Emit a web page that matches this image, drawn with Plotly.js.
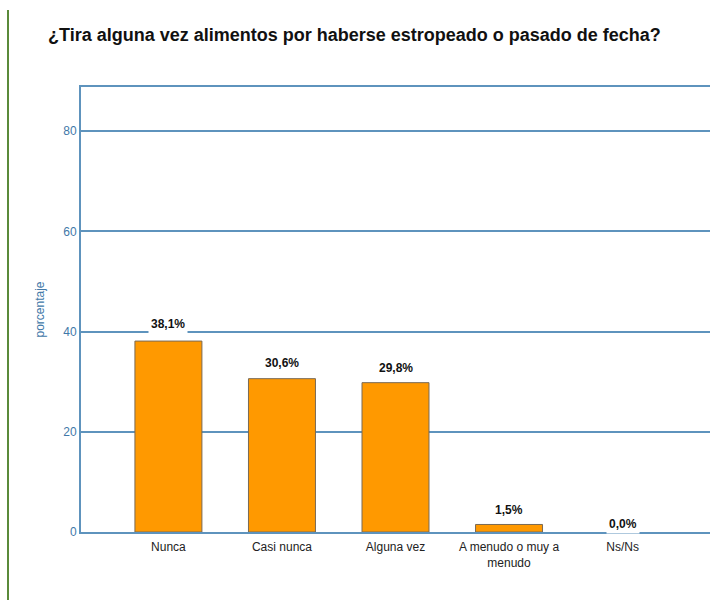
<!DOCTYPE html>
<html><head><meta charset="utf-8">
<script src="https://cdn.plot.ly/plotly-3.0.1.min.js"></script>
<style>html,body{margin:0;padding:0;background:#fff;overflow:hidden}</style>
</head><body>
<div id="chart" style="width:710px;height:610px"></div>
<script>
const categories = ["Nunca", "Casi nunca", "Alguna vez", "A menudo o muy a<br>menudo", "Ns/Ns"];
const values = [38.1, 30.6, 29.8, 1.5, 0.0];
const labels = ["38,1%", "30,6%", "29,8%", "1,5%", "0,0%"];

const axisBlue = "#5e93bd";
const font = "Liberation Sans, Arial, sans-serif";
const trace = {
  type: "bar",
  x: categories,
  y: values,
  width: 0.59,
  marker: {color: "#ff9900", line: {color: "#7a6a55", width: values.map(v => v > 0 ? 1 : 0)}},
  hoverinfo: "skip"
};
const shifts = [7, 6, 5, 4, -2];
const annotations = categories.map((c, i) => ({
  x: c, y: values[i], xref: "x", yref: "y",
  text: "<b>" + labels[i] + "</b>",
  showarrow: false, yanchor: "bottom", yshift: shifts[i],
  bgcolor: "#ffffff", borderpad: 2,
  font: {family: font, size: 12, color: "#111"}
}));
const layout = {
  width: 710, height: 610,
  margin: {l: 81, r: 0, t: 87, b: 78},
  paper_bgcolor: "#fff", plot_bgcolor: "#fff",
  showlegend: false,
  title: {
    text: "<b>¿Tira alguna vez alimentos por haberse estropeado o pasado de fecha?</b>",
    xref: "container", yref: "container", x: 48/710, xanchor: "left",
    y: 1 - 35/610, yanchor: "middle",
    font: {family: font, size: 18, color: "#111"}
  },
  xaxis: {
    range: [-0.77, 4.77], showgrid: false, zeroline: false,
    showline: true, mirror: true, linecolor: axisBlue, linewidth: 2,
    ticks: "", ticklabelstandoff: 3,
    tickfont: {family: font, size: 12, color: "#222"},
    fixedrange: true
  },
  yaxis: {
    range: [0, 88.8], tickvals: [0, 20, 40, 60, 80],
    showgrid: true, gridcolor: axisBlue, gridwidth: 2, zeroline: false,
    showline: true, linecolor: axisBlue, linewidth: 2, ticks: "",
    tickfont: {family: font, size: 12, color: "#3f78a8"},
    title: {text: "porcentaje", standoff: 16, font: {family: font, size: 12, color: "#3f78a8"}},
    fixedrange: true
  },
  annotations: annotations,
  shapes: [{
    type: "line", xref: "paper", yref: "paper",
    x0: (8-81)/629, x1: (8-81)/629, y0: (532-10)/445, y1: (532-600)/445,
    line: {color: "#5a8a3a", width: 2}
  }]
};
Plotly.newPlot("chart", [trace], layout, {displayModeBar: false, staticPlot: true});
</script>
</body></html>
